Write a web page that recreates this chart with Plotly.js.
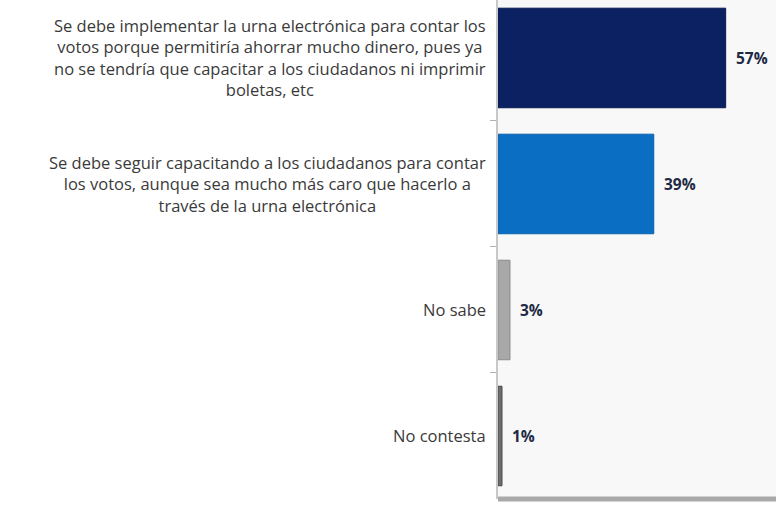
<!DOCTYPE html>
<html>
<head>
<meta charset="utf-8">
<script src="https://cdn.plot.ly/plotly-3.0.1.min.js"></script>
<style>html,body{margin:0;padding:0;background:#fff;}#chart{width:776px;height:508px;}</style>
</head>
<body>
<div id="chart"></div>
<script>
var categories = [
  "Se debe implementar la urna electrónica para contar los<br>votos porque permitiría ahorrar mucho dinero, pues ya<br>no se tendría que capacitar a los ciudadanos ni imprimir<br>boletas, etc",
  "Se debe seguir capacitando a los ciudadanos para contar<br>los votos, aunque sea mucho más caro que hacerlo a<br>través de la urna electrónica",
  "No sabe",
  "No contesta"
];
var values = [57, 39, 3, 1];
var valueLabels = ["57%", "39%", "3%", "1%"];
var barColors = ["#0b2161", "#0a6fc2", "#a8a8a8", "#6e6e6e"];
var edgeColors = ["#071a4d", "#0b62ad", "#8a8a8a", "#4a4a4a"];

var trace = {
  type: "bar",
  orientation: "h",
  x: values,
  y: categories,
  marker: {color: barColors, line: {color: edgeColors, width: 1}},
  width: 0.79,
  hoverinfo: "none"
};

var annotations = categories.map(function (c) {
  return {
    xref: "paper", yref: "y", x: 0, y: c,
    text: c, showarrow: false, xanchor: "right", yanchor: "middle",
    align: "center", xshift: -10,
    font: {family: "Open Sans, sans-serif", size: 16.5, color: "#3a3a3a"}
  };
}).concat(values.map(function (v, i) {
  return {
    xref: "x", yref: "y", x: v, y: categories[i],
    text: "<b>" + valueLabels[i] + "</b>", showarrow: false,
    xanchor: "left", yanchor: "middle", xshift: 8,
    font: {family: "Open Sans, sans-serif", size: 15.5, color: "#1f2a44"}
  };
}));

var layout = {
  width: 776, height: 508,
  margin: {l: 498, r: 0, t: 0, b: 9},
  paper_bgcolor: "#ffffff",
  plot_bgcolor: "#f8f8f8",
  showlegend: false,
  xaxis: {range: [0, 69.6], showgrid: false, zeroline: false, showticklabels: false, showline: false, fixedrange: true},
  yaxis: {
    type: "category",
    range: [3.5, -0.46],
    showticklabels: false,
    showgrid: false,
    zeroline: false,
    showline: true, linecolor: "#c8c8c8", linewidth: 2,
    ticks: "outside", ticklen: 6, tickcolor: "#b0b0b0", tickson: "boundaries",
    fixedrange: true
  },
  annotations: annotations,
  shapes: [
    {type: "line", xref: "paper", yref: "paper", x0: 0, x1: 1, y0: 0, y1: 0, line: {color: "#a9a9a9", width: 5}}
  ]
};

Plotly.newPlot("chart", [trace], layout, {displayModeBar: false, staticPlot: true});
</script>
</body>
</html>
